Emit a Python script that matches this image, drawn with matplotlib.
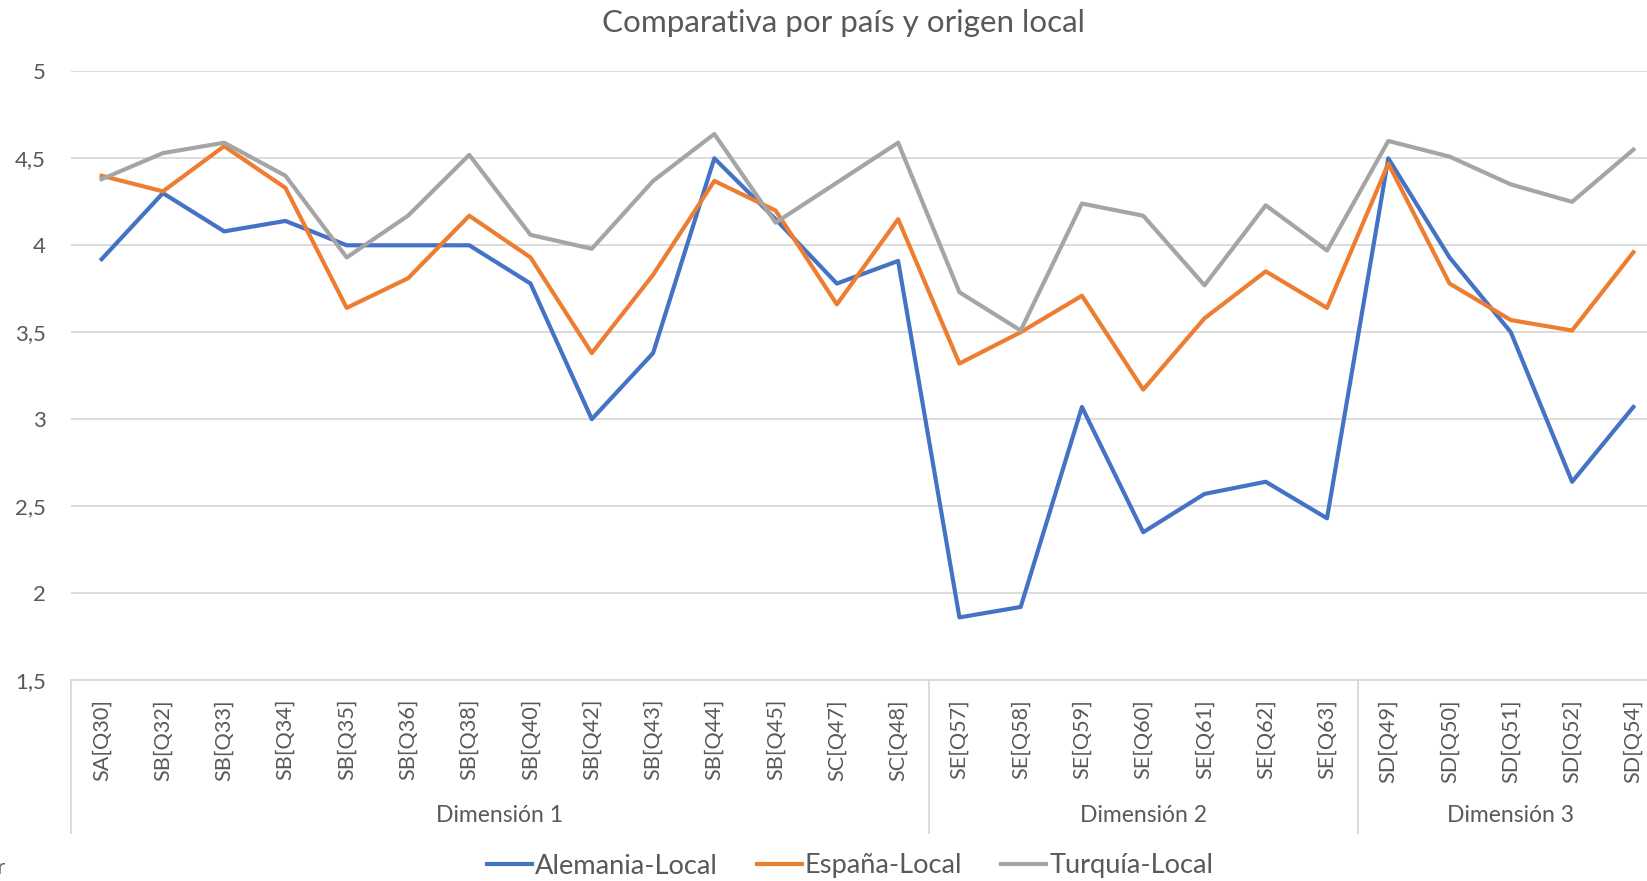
import matplotlib

matplotlib.use("Agg")
import matplotlib.pyplot as plt
from matplotlib.lines import Line2D

plt.rcParams["font.family"] = ["Lato", "DejaVu Sans"]

TITLE = "Comparativa por país y origen local"
CATEGORIES = [
    "SA[Q30]", "SB[Q32]", "SB[Q33]", "SB[Q34]", "SB[Q35]", "SB[Q36]", "SB[Q38]",
    "SB[Q40]", "SB[Q42]", "SB[Q43]", "SB[Q44]", "SB[Q45]", "SC[Q47]", "SC[Q48]",
    "SE[Q57]", "SE[Q58]", "SE[Q59]", "SE[Q60]", "SE[Q61]", "SE[Q62]", "SE[Q63]",
    "SD[Q49]", "SD[Q50]", "SD[Q51]", "SD[Q52]", "SD[Q54]",
]
GROUPS = ["Dimensión 1", "Dimensión 2", "Dimensión 3"]
GROUP_SIZES = [14, 7, 5]

ALEMANIA = [3.92, 4.30, 4.08, 4.14, 4.00, 4.00, 4.00, 3.78, 3.00, 3.38, 4.50, 4.15, 3.78, 3.91,
            1.86, 1.92, 3.07, 2.35, 2.57, 2.64, 2.43, 4.50, 3.93, 3.50, 2.64, 3.07]
ESPANA = [4.40, 4.31, 4.57, 4.33, 3.64, 3.81, 4.17, 3.93, 3.38, 3.83, 4.37, 4.20, 3.66, 4.15,
          3.32, 3.50, 3.71, 3.17, 3.58, 3.85, 3.64, 4.47, 3.78, 3.57, 3.51, 3.96]
TURQUIA = [4.38, 4.53, 4.59, 4.40, 3.93, 4.17, 4.52, 4.06, 3.98, 4.37, 4.64, 4.13, 4.36, 4.59,
           3.73, 3.51, 4.24, 4.17, 3.77, 4.23, 3.97, 4.60, 4.51, 4.35, 4.25, 4.55]

SERIES = [
    ("Alemania-Local", ALEMANIA, "#4472C4"),
    ("España-Local", ESPANA, "#ED7D31"),
    ("Turquía-Local", TURQUIA, "#A5A5A5"),
]

TEXT = "#595959"
GRID = "#D9D9D9"

W, H = 1647, 881
fig = plt.figure(figsize=(W / 100, H / 100), dpi=100, facecolor="white")
renderer = fig.canvas.get_renderer()


def size_for(s, target_px, rotation=0, base=20.0):
    """Schriftgroesse, bei der der Text target_px lang wird."""
    t = fig.text(0, 0, s, fontsize=base, rotation=rotation)
    bb = t.get_window_extent(renderer)
    t.remove()
    cur = bb.height if rotation else bb.width
    return base * target_px / cur


fs_tick = size_for("4,5", 31)
fs_cat = size_for("SA[Q30]", 82, rotation=90)
fs_grp = size_for("Dimensión 3", 127)
fs_title = size_for(TITLE, 483)
fs_leg = size_for("Alemania-Local", 183)

# Plotbereich in Pixeln (rechts ueber den Rand hinaus, wie im Original abgeschnitten)
left, right, top, bottom = 71, 1664, 71.4, 680
ax = fig.add_axes([left / W, 1 - bottom / H, (right - left) / W, (bottom - top) / H])

x = list(range(len(CATEGORIES)))
for name, vals, col in SERIES:
    ax.plot(x, vals, color=col, linewidth=3.0, label=name, zorder=3)

ax.set_xlim(-0.5, len(CATEGORIES) - 0.5)
ax.set_ylim(1.5, 5)
yticks = [1.5, 2, 2.5, 3, 3.5, 4, 4.5, 5]
ax.set_yticks(yticks)
ax.set_yticklabels([f"{v:g}".replace(".", ",") for v in yticks])
ax.tick_params(axis="y", length=0, pad=(left - 46) * 0.72, labelsize=fs_tick, labelcolor=TEXT)
ax.set_xticks([])
ax.grid(axis="y", color=GRID, linewidth=1.3, zorder=1)
for s in ["left", "right", "top"]:
    ax.spines[s].set_visible(False)
ax.spines["bottom"].set_color(GRID)
ax.spines["bottom"].set_linewidth(1.3)

# Kategorie-Achse mit zwei Ebenen
trans = ax.get_xaxis_transform()
px = bottom - top
y_lab = -(699 - bottom) / px
y_grp = -(816 - bottom) / px
y_end = -(833 - bottom) / px
for i, lab in enumerate(CATEGORIES):
    ax.text(i, y_lab, lab, rotation=90, ha="center", va="top", transform=trans,
            fontsize=fs_cat, color=TEXT)

ax.plot([-0.5, -0.5], [0, y_end], transform=trans, color=GRID, linewidth=1.3, clip_on=False)
start = 0
for g, n in zip(GROUPS, GROUP_SIZES):
    end = start + n - 1
    ax.text((start + end) / 2, y_grp, g, ha="center", va="center", transform=trans,
            fontsize=fs_grp, color=TEXT)
    if end < len(CATEGORIES) - 1:
        ax.plot([end + 0.5, end + 0.5], [0, y_end], transform=trans, color=GRID,
                linewidth=1.3, clip_on=False)
    start += n

fig.text(843 / W, 1 - 23 / H, TITLE, ha="center", va="center", fontsize=fs_title, color=TEXT)

leg_px = fs_leg * 100 / 72
handles = [Line2D([], [], color=c, linewidth=3.0) for _, _, c in SERIES]
fig.legend(handles, [n for n, _, _ in SERIES], loc="center left",
           bbox_to_anchor=(487 / W, 1 - 866 / H), ncol=3, frameon=False,
           fontsize=fs_leg, labelcolor=TEXT, handlelength=45 / leg_px,
           handletextpad=3 / leg_px, columnspacing=39 / leg_px,
           borderpad=0, borderaxespad=0)

fig.text(0, 1 - 868 / H, "r", ha="center", va="center", fontsize=16, color=TEXT)

fig.savefig("out.png", dpi=100, facecolor="white")
